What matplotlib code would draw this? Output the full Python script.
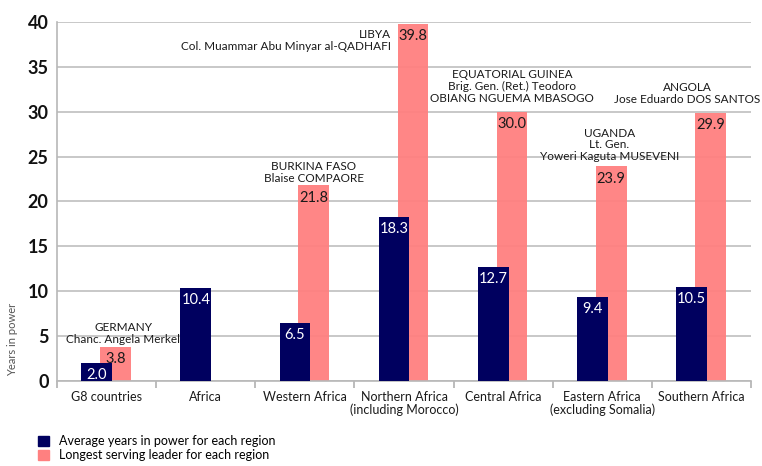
import numpy as np
import matplotlib.pyplot as plt
from matplotlib.patches import Patch

plt.rcParams['font.family'] = ['Lato', 'DejaVu Sans']

regions = ["G8 countries", "Africa", "Western Africa",
           "Northern Africa\n(including Morocco)", "Central Africa",
           "Eastern Africa\n(excluding Somalia)", "Southern Africa"]
avg_years = [2.0, 10.4, 6.5, 18.3, 12.7, 9.4, 10.5]
longest = [3.8, None, 21.8, 39.8, 30.0, 23.9, 29.9]
leaders = ["GERMANY\nChanc. Angela Merkel", None,
           "BURKINA FASO\nBlaise COMPAORE",
           "LIBYA\nCol. Muammar Abu Minyar al-QADHAFI",
           "EQUATORIAL GUINEA\nBrig. Gen. (Ret.) Teodoro\nOBIANG NGUEMA MBASOGO",
           "UGANDA\nLt. Gen.\nYoweri Kaguta MUSEVENI",
           "ANGOLA\nJose Eduardo DOS SANTOS"]

navy = "#00005f"
pink = "#ff8080"
w = 0.31

fig = plt.figure(figsize=(7.62, 4.66), dpi=100)
ax = fig.add_axes([0.0748, 0.1824, 0.9108, 0.7704])
x = np.arange(len(regions))

for i, v in enumerate(longest):
    if v is None:
        continue
    ax.bar(x[i] + 0.09, v, w, color=pink, alpha=0.95, zorder=2)
    ax.text(x[i] + 0.09, v - 0.6, f"{v:.1f}", ha="center", va="top",
            fontsize=10.5, color="#1a1a1a", zorder=5)

ax.bar(x - 0.1, avg_years, w, color=navy, zorder=3)
for i, v in enumerate(avg_years):
    ax.text(x[i] - 0.1, v - 0.6, f"{v:.1f}", ha="center", va="top",
            fontsize=10.5, color="white", zorder=5)

# leader annotations: (x, y centre, alignment)
note_pos = [(0.17, 5.3, "center"), None, (2.09, 23.2, "center"),
            (2.87, 37.9, "right"), (4.09, 32.8, "center"),
            (5.07, 26.3, "center"), (5.86, 32.0, "center")]
for txt, pos in zip(leaders, note_pos):
    if txt is None:
        continue
    px, py, ha = pos
    ax.text(px, py, txt, ha=ha, va="center", multialignment=ha,
            fontsize=8.5, color="#1a1a1a", linespacing=1.1, zorder=6,
            clip_on=False)

ax.set_xlim(-0.5, len(regions) - 0.5)
ax.set_ylim(0, 40)
ax.set_yticks(np.arange(0, 41, 5))
ax.yaxis.grid(True, color="#c4c4c4", linewidth=1.3, zorder=0)
ax.set_axisbelow(True)

ax.set_xticks(x)
ax.set_xticklabels(regions, fontsize=9, color="#1a1a1a", linespacing=1.05)
ax.set_xticks(np.arange(-0.5, len(regions)), minor=True)
ax.tick_params(axis="x", which="major", length=0, pad=7)
ax.tick_params(axis="x", which="minor", length=5, color="#b0b0b0", width=1.2)
ax.tick_params(axis="y", length=0, labelsize=13, labelcolor="#111111", pad=6)
for lab in ax.get_yticklabels():
    lab.set_fontweight("bold")

for s in ["top", "right"]:
    ax.spines[s].set_visible(False)
for s in ["left", "bottom"]:
    ax.spines[s].set_color("#b8b8b8")
    ax.spines[s].set_linewidth(1.2)

fig.text(0.016, 0.2725, "Years in power", rotation=90, ha="center",
         va="center", fontsize=8, color="#555555")

handles = [Patch(color=navy), Patch(color=pink)]
fig.legend(handles, ["Average years in power for each region",
                     "Longest serving leader for each region"],
           loc="upper left", bbox_to_anchor=(0.05, 0.066), frameon=False,
           fontsize=9, handlelength=0.9, handleheight=0.9,
           handletextpad=0.8, labelspacing=0.15, borderpad=0,
           borderaxespad=0)

fig.savefig("out.png", dpi=100)
